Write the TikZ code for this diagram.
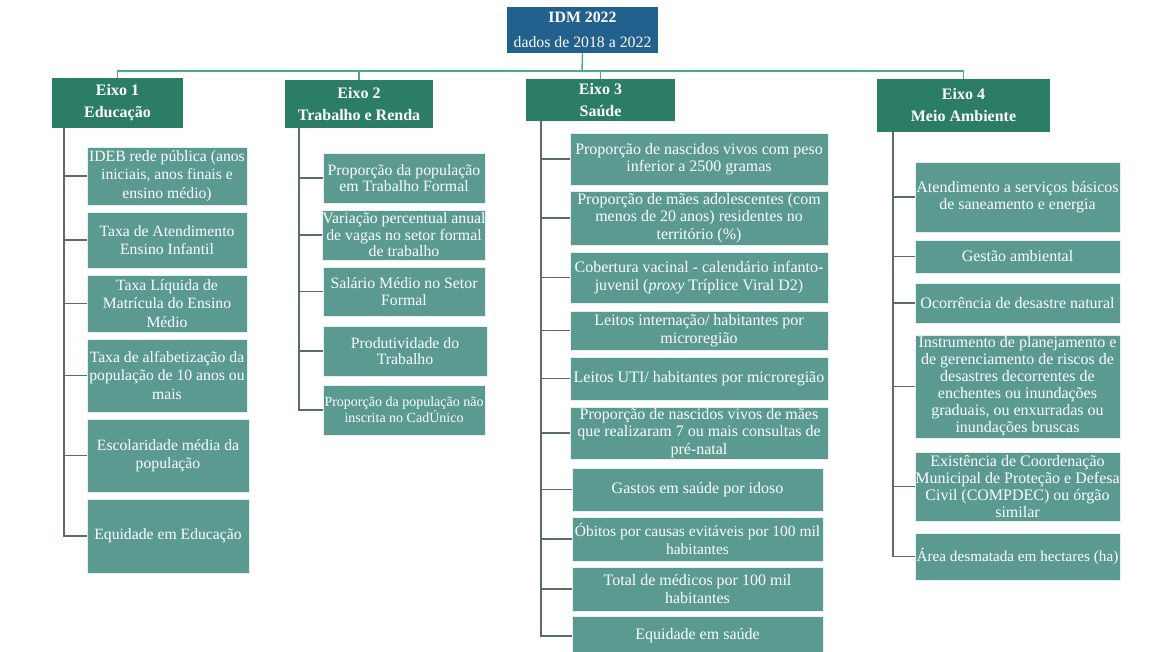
\documentclass[tikz,border=0pt]{standalone}
\usepackage{fontspec}
\setmainfont{Liberation Serif}
\definecolor{topblue}{HTML}{22608E}
\definecolor{eixogreen}{HTML}{2C7D66}
\definecolor{childteal}{HTML}{5A9A90}
\definecolor{busgreen}{HTML}{45AE82}
\definecolor{trunkgray}{HTML}{587060}
\tikzset{
  topbox/.style={fill=topblue, text=white, inner sep=0pt, align=center, font=\fontsize{15.8}{25}\selectfont},
  eixobox/.style={fill=eixogreen, text=white, inner sep=0pt, align=center, font=\bfseries\fontsize{16}{22}\selectfont},
  childbox/.style={fill=childteal, draw=white!85!childteal, line width=0.6pt, text=white, inner sep=0pt, align=center, font=\fontsize{15.7}{18.5}\selectfont},
  workbox/.style={childbox, font=\fontsize{15.8}{16.5}\selectfont},
  healthbox/.style={childbox, font=\fontsize{16}{17.5}\selectfont},
  tightbox/.style={childbox, font=\fontsize{16}{17}\selectfont},
  busline/.style={draw=busgreen, line width=1.4pt},
  trunk/.style={draw=trunkgray, line width=1.3pt},
}
\newcommand{\bx}[6]{\node[#1, minimum width=#4pt, minimum height=#5pt] (#2) at #3 {#6};}
\begin{document}
\begin{tikzpicture}[x=1pt,y=-1pt]
\useasboundingbox[fill=white] (0,0) rectangle (1172,652);
% top
\bx{topbox}{top}{(582.5,30)}{151}{46}{\textbf{IDM 2022}\\dados de 2018 a 2022}
% eixos
\bx{eixobox}{e1}{(117.5,103)}{131}{50}{Eixo 1\\Educação}
\bx{eixobox}{e2}{(359,104)}{148}{48}{Eixo 2\\Trabalho e Renda}
\bx{eixobox}{e3}{(600.5,100)}{149}{42}{Eixo 3\\Saúde}
\bx{eixobox}{e4}{(963.5,105.5)}{173}{53}{Eixo 4\\Meio Ambiente}
\coordinate (bus) at (582,71);
\draw[busline] (top.south) -- (bus);
\draw[busline] (e1.north) |- (bus);
\draw[busline] (e4.north) |- (bus);
\draw[busline] (e2.north) -- (e2.north |- bus);
\draw[busline] (e3.north) -- (e3.north |- bus);
% column 1
\bx{childbox}{c1a}{(167,176)}{160}{58}{IDEB rede pública (anos\\iniciais, anos finais e\\ensino médio)}
\bx{childbox}{c1b}{(167,240)}{160}{56}{Taxa de Atendimento\\Ensino Infantil}
\bx{childbox}{c1c}{(167,303.5)}{160}{57}{Taxa Líquida de\\Matrícula do Ensino\\Médio}
\bx{childbox}{c1d}{(167,375.5)}{160}{73}{Taxa de alfabetização da\\população de 10 anos ou\\mais}
\bx{childbox}{c1e}{(168,455.5)}{162}{73}{Escolaridade média da\\população}
\bx{childbox}{c1f}{(168,536)}{162}{74}{Equidade em Educação}
\coordinate (t1) at (64,0);
\draw[trunk] (t1 |- e1.south) |- (c1f.west);
\foreach \c in {c1a,c1b,c1c,c1d,c1e} {\draw[trunk] (t1 |- \c.west) -- (\c.west);}
% column 2
\bx{workbox}{c2a}{(404,178)}{162}{50}{Proporção da população\\em Trabalho Formal}
\bx{workbox}{c2b}{(404,235)}{162}{50}{Variação percentual anual\\de vagas no setor formal\\de trabalho}
\bx{workbox}{c2c}{(404,291.5)}{162}{49}{Salário Médio no Setor\\Formal}
\bx{workbox}{c2d}{(405,351)}{164}{50}{Produtividade do\\Trabalho}
\node[childbox, minimum width=162pt, minimum height=50pt, font=\fontsize{14}{16}\selectfont] (c2e) at (404,410) {Proporção da população não\\inscrita no CadÚnico};
\coordinate (t2) at (299,0);
\draw[trunk] (t2 |- e2.south) |- (c2e.west);
\foreach \c in {c2a,c2b,c2c,c2d} {\draw[trunk] (t2 |- \c.west) -- (\c.west);}
% column 3
\bx{healthbox}{c3a}{(699,159)}{258}{52}{Proporção de nascidos vivos com peso\\inferior a 2500 gramas}
\bx{healthbox}{c3b}{(699,218)}{258}{54}{Proporção de mães adolescentes (com\\menos de 20 anos) residentes no\\território (\%)}
\bx{healthbox}{c3c}{(699,277.5)}{258}{51}{Cobertura vacinal - calendário infanto-\\juvenil (\textit{proxy} Tríplice Viral D2)}
\bx{healthbox}{c3d}{(699,330.5)}{258}{39}{Leitos internação/ habitantes por\\microregião}
\bx{healthbox}{c3e}{(699,378.5)}{258}{43}{Leitos UTI/ habitantes por microregião}
\bx{healthbox}{c3f}{(699,433)}{258}{52}{Proporção de nascidos vivos de mães\\que realizaram 7 ou mais consultas de\\pré-natal}
\bx{healthbox}{c3g}{(697.5,489.5)}{251}{43}{Gastos em saúde por idoso}
\node[healthbox, minimum width=251pt, minimum height=44pt, font=\fontsize{15.5}{17.5}\selectfont] (c3h) at (697.5,539) {Óbitos por causas evitáveis por 100 mil\\habitantes};
\bx{healthbox}{c3i}{(697.5,589)}{251}{44}{Total de médicos por 100 mil\\habitantes}
\bx{healthbox}{c3j}{(697.5,636)}{251}{40}{Equidade em saúde}
\coordinate (t3) at (541,0);
\draw[trunk] (t3 |- e3.south) |- (c3j.west);
\foreach \c in {c3a,c3b,c3c,c3d,c3e,c3f,c3g,c3h,c3i} {\draw[trunk] (t3 |- \c.west) -- (\c.west);}
% column 4
\bx{tightbox}{c4a}{(1017.5,197)}{205}{70}{Atendimento a serviços básicos\\de saneamento e energia}
\bx{tightbox}{c4b}{(1017.5,256.5)}{205}{33}{Gestão ambiental}
\bx{tightbox}{c4c}{(1017.5,303)}{205}{40}{Ocorrência de desastre natural}
\bx{tightbox}{c4d}{(1017.5,386.5)}{205}{103}{Instrumento de planejamento e\\de gerenciamento de riscos de\\desastres decorrentes de\\enchentes ou inundações\\graduais, ou enxurradas ou\\inundações bruscas}
\bx{tightbox}{c4e}{(1017.5,486.5)}{205}{69}{Existência de Coordenação\\Municipal de Proteção e Defesa\\Civil (COMPDEC) ou órgão\\similar}
\node[tightbox, minimum width=205pt, minimum height=47pt, font=\fontsize{15.2}{17}\selectfont] (c4f) at (1017.5,556.5) {Área desmatada em hectares (ha)};
\coordinate (t4) at (893,0);
\draw[trunk] (t4 |- e4.south) |- (c4f.west);
\foreach \c in {c4a,c4b,c4c,c4d,c4e} {\draw[trunk] (t4 |- \c.west) -- (\c.west);}
\end{tikzpicture}
\end{document}
